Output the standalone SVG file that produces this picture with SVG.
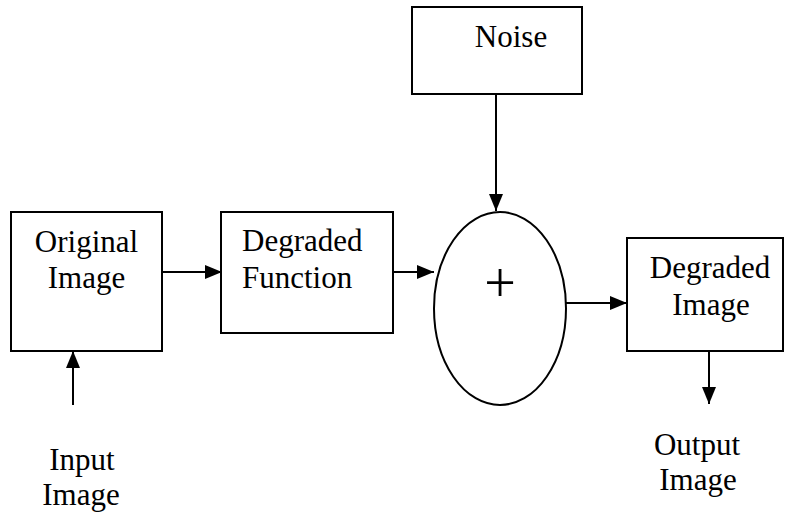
<svg xmlns="http://www.w3.org/2000/svg" width="785" height="515" viewBox="0 0 785 515">
<style>
.box{fill:#fff;stroke:#000;stroke-width:2}
.t{font-family:"Liberation Serif","Tinos","Times New Roman","DejaVu Serif",serif;font-size:31px;fill:#000}
.c{stroke:#000;stroke-width:2;fill:none}
</style>
<defs>
<marker id="ah" markerUnits="userSpaceOnUse" markerWidth="18" markerHeight="14" refX="17" refY="7" orient="auto">
<path d="M0,0 L17,7 L0,14 Z" fill="#000"/>
</marker>
</defs>
<rect width="785" height="515" fill="#fff"/>
<g id="original">
<rect class="box" x="11" y="212" width="151" height="139"/>
<text class="t" x="86.5" y="252" text-anchor="middle">Original</text>
<text class="t" x="86.5" y="288" text-anchor="middle">Image</text>
</g>
<g id="degfunc">
<rect class="box" x="221" y="212" width="172" height="121"/>
<text class="t" x="242" y="251">Degraded</text>
<text class="t" x="242" y="288">Function</text>
</g>
<g id="noise">
<rect class="box" x="412" y="7" width="170" height="87"/>
<text class="t" x="511" y="47" text-anchor="middle">Noise</text>
</g>
<g id="sum">
<ellipse class="box" cx="500" cy="308.5" rx="66" ry="96.5"/>
<text class="t" x="500" y="302" text-anchor="middle" style="font-size:56px">+</text>
</g>
<g id="degimage">
<rect class="box" x="627" y="238" width="156" height="113"/>
<text class="t" x="710" y="278" text-anchor="middle">Degraded</text>
<text class="t" x="711" y="315" text-anchor="middle">Image</text>
</g>
<g id="input">
<text class="t" x="82" y="470" text-anchor="middle">Input</text>
<text class="t" x="81" y="505" text-anchor="middle">Image</text>
</g>
<g id="output">
<text class="t" x="697" y="455" text-anchor="middle">Output</text>
<text class="t" x="698" y="490" text-anchor="middle">Image</text>
</g>
<g id="connectors">
<line class="c" x1="162" y1="272" x2="222" y2="272" marker-end="url(#ah)"/>
<line class="c" x1="393" y1="272" x2="434" y2="272" marker-end="url(#ah)"/>
<line class="c" x1="496" y1="94" x2="496" y2="211" marker-end="url(#ah)"/>
<line class="c" x1="566" y1="303" x2="627" y2="303" marker-end="url(#ah)"/>
<line class="c" x1="709" y1="351" x2="709" y2="404" marker-end="url(#ah)"/>
<line class="c" x1="73" y1="405" x2="73" y2="351" marker-end="url(#ah)"/>
</g>
</svg>
